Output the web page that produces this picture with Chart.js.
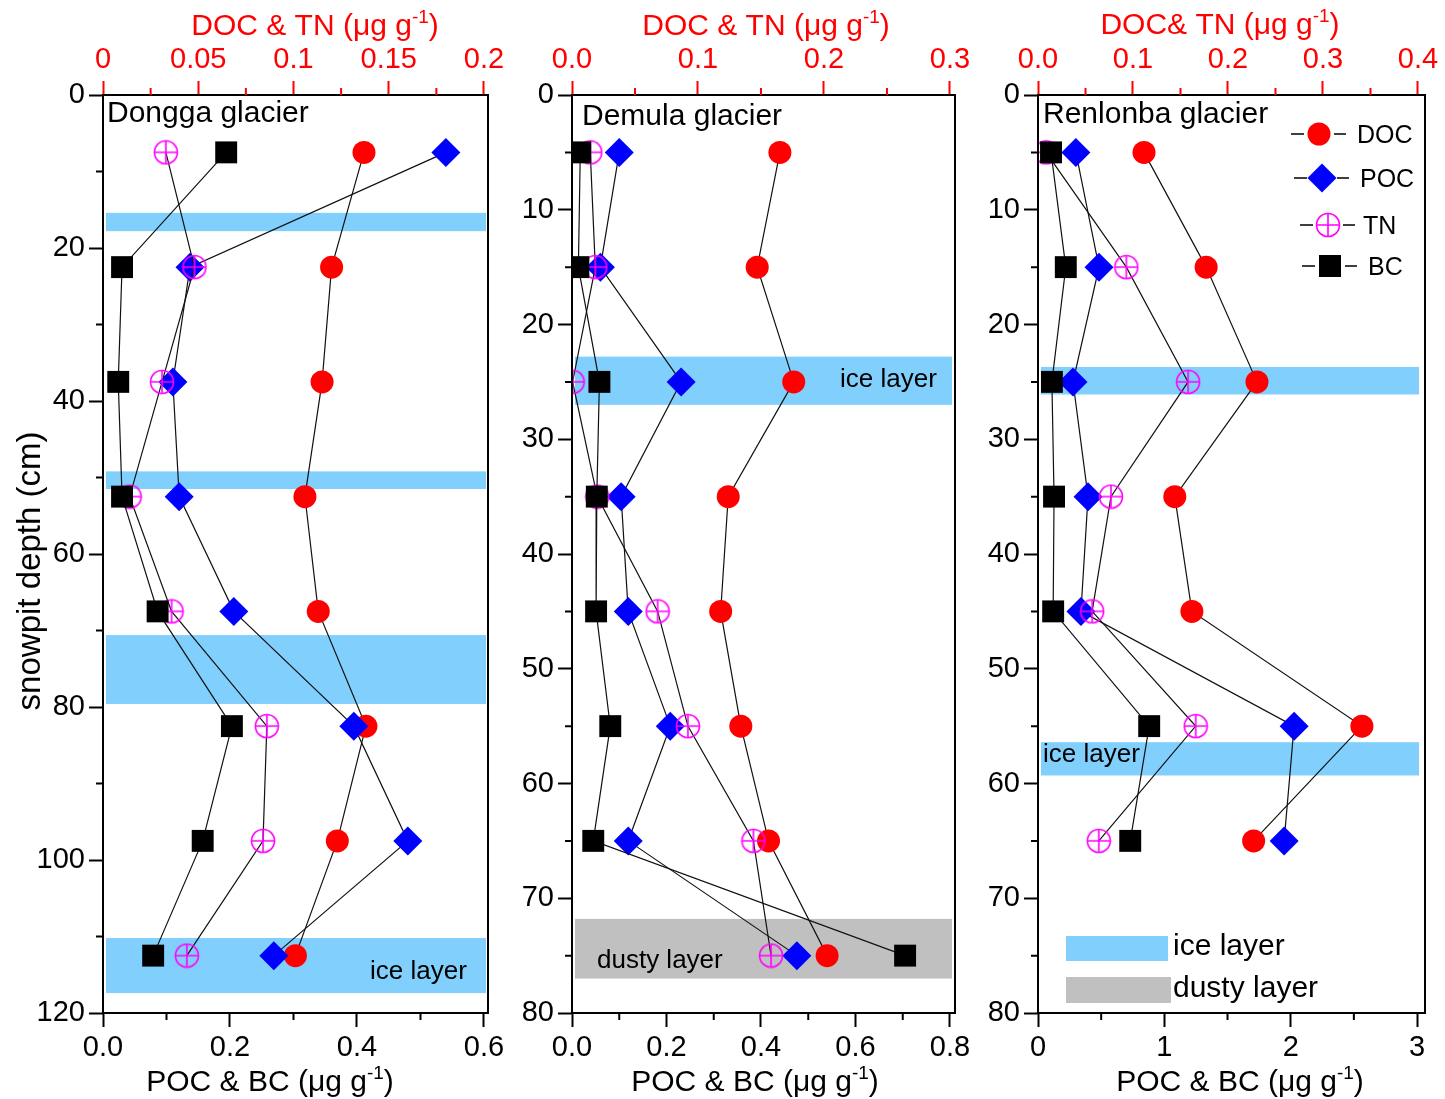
<!DOCTYPE html>
<html>
<head>
<meta charset="utf-8">
<script src="https://cdn.jsdelivr.net/npm/chart.js@4.4.0/dist/chart.umd.min.js"></script>
<style>
html, body { margin:0; padding:0; background:#fff; width:1445px; height:1099px; overflow:hidden; }
canvas { position:absolute; top:0; }
</style>
</head>
<body>
<canvas id="c1" width="510" height="1099" style="left:0px;width:510px;height:1099px"></canvas>
<canvas id="c2" width="480" height="1099" style="left:500px;width:480px;height:1099px"></canvas>
<canvas id="c3" width="475" height="1099" style="left:970px;width:475px;height:1099px"></canvas>
<script>
// ---------------- DATA ----------------
const seriesNames = ['DOC', 'POC', 'TN', 'BC'];

// Dongga glacier
const donggaDepth = [7.5, 22.5, 37.5, 52.5, 67.5, 82.5, 97.5, 112.5];
const donggaDOC = [0.137, 0.120, 0.115, 0.106, 0.113, 0.138, 0.123, 0.101];
const donggaTN  = [0.033, 0.048, 0.031, 0.014, 0.036, 0.086, 0.084, 0.044];
const donggaPOC = [0.540, 0.137, 0.110, 0.120, 0.206, 0.395, 0.480, 0.269];
const donggaBC  = [0.194, 0.030, 0.024, 0.030, 0.086, 0.203, 0.157, 0.079];
const donggaIce = [[15.4, 17.8], [49.2, 51.5], [70.6, 79.6], [110.2, 117.4]];
const donggaDusty = [];

// Demula glacier
const demulaDepth = [5, 15, 25, 35, 45, 55, 65, 75];
const demulaDOC = [0.165, 0.147, 0.176, 0.124, 0.118, 0.134, 0.156, 0.2025];
const demulaTN  = [0.0145, 0.0185, 0.0005, 0.020, 0.068, 0.092, 0.144, 0.158];
const demulaPOC = [0.100, 0.060, 0.231, 0.104, 0.119, 0.208, 0.119, 0.476];
const demulaBC  = [0.0175, 0.0135, 0.058, 0.0525, 0.051, 0.081, 0.045, 0.705];
const demulaIce = [[22.8, 27.0]];
const demulaDusty = [[71.8, 77.0]];

// Renlonba glacier
const renlonbaDepth = [5, 15, 25, 35, 45, 55, 65];
const renlonbaDOC = [0.1116, 0.177, 0.2305, 0.144, 0.162, 0.341, 0.227];
const renlonbaTN  = [0.0085, 0.093, 0.158, 0.0768, 0.057, 0.166, 0.064];
const renlonbaPOC = [0.30, 0.483, 0.277, 0.396, 0.34, 2.027, 1.948];
const renlonbaBC  = [0.103, 0.22, 0.11, 0.127, 0.12, 0.88, 0.73];
const renlonbaIce = [[23.7, 26.1], [56.4, 59.3]];
const renlonbaDusty = [];

// Tick values and labels
const donggaDepthTicks = [0, 20, 40, 60, 80, 100, 120];
const donggaDepthLabels = ['0', '20', '40', '60', '80', '100', '120'];
const donggaTopTicks = [0, 0.05, 0.1, 0.15, 0.2];
const donggaTopLabels = ['0', '0.05', '0.1', '0.15', '0.2'];
const donggaBottomTicks = [0, 0.2, 0.4, 0.6];
const donggaBottomLabels = ['0.0', '0.2', '0.4', '0.6'];

const demulaDepthTicks = [0, 10, 20, 30, 40, 50, 60, 70, 80];
const demulaDepthLabels = ['0', '10', '20', '30', '40', '50', '60', '70', '80'];
const demulaTopTicks = [0, 0.1, 0.2, 0.3];
const demulaTopLabels = ['0.0', '0.1', '0.2', '0.3'];
const demulaBottomTicks = [0, 0.2, 0.4, 0.6, 0.8];
const demulaBottomLabels = ['0.0', '0.2', '0.4', '0.6', '0.8'];

const renlonbaDepthTicks = [0, 10, 20, 30, 40, 50, 60, 70, 80];
const renlonbaDepthLabels = ['0', '10', '20', '30', '40', '50', '60', '70', '80'];
const renlonbaTopTicks = [0, 0.1, 0.2, 0.3, 0.4];
const renlonbaTopLabels = ['0.0', '0.1', '0.2', '0.3', '0.4'];
const renlonbaBottomTicks = [0, 1, 2, 3];
const renlonbaBottomLabels = ['0', '1', '2', '3'];

// ---------------- STYLE ----------------
const FONT = '"Liberation Sans", Arial, Helvetica, sans-serif';
const RED = '#ff0000', BLUE = '#0000ff', MAGENTA = '#ff00ff';
const ICE = 'rgb(128,207,252)';
const DUST = 'rgb(192,192,192)';
const H = 1099;

function makeTN(r) {
  const s = Math.ceil(2 * r + 3);
  const c = document.createElement('canvas');
  c.width = s; c.height = s;
  const g = c.getContext('2d');
  g.strokeStyle = MAGENTA; g.lineWidth = 1.6;
  const m = s / 2;
  g.beginPath(); g.arc(m, m, r, 0, Math.PI * 2); g.stroke();
  g.beginPath();
  g.moveTo(m - r, m); g.lineTo(m + r, m);
  g.moveTo(m, m - r); g.lineTo(m, m + r);
  g.stroke();
  return c;
}
const tnImg = makeTN(11.5);

function drawMarker(ctx, kind, x, y) {
  ctx.save();
  if (kind === 'DOC') {
    ctx.fillStyle = RED; ctx.beginPath(); ctx.arc(x, y, 11.5, 0, Math.PI * 2); ctx.fill();
  } else if (kind === 'POC') {
    ctx.fillStyle = BLUE; ctx.beginPath();
    ctx.moveTo(x - 14.5, y); ctx.lineTo(x, y - 14.5); ctx.lineTo(x + 14.5, y); ctx.lineTo(x, y + 14.5);
    ctx.closePath(); ctx.fill();
  } else if (kind === 'TN') {
    ctx.drawImage(tnImg, x - tnImg.width / 2, y - tnImg.height / 2);
  } else {
    ctx.fillStyle = '#000'; ctx.fillRect(x - 11, y - 11, 22, 22);
  }
  ctx.restore();
}

function drawUnitTitle(ctx, pre, cx, base, color, size) {
  const main = size + 'px ' + FONT, small = Math.round(size * 0.62) + 'px ' + FONT;
  ctx.save();
  ctx.fillStyle = color; ctx.textAlign = 'left'; ctx.textBaseline = 'alphabetic';
  ctx.font = main; const w1 = ctx.measureText(pre).width; const w3 = ctx.measureText(')').width;
  ctx.font = small; const w2 = ctx.measureText('-1').width;
  let x = cx - (w1 + w2 + w3) / 2;
  ctx.font = main; ctx.fillText(pre, x, base); x += w1;
  ctx.font = small; ctx.fillText('-1', x, base - size * 0.4); x += w2;
  ctx.font = main; ctx.fillText(')', x, base);
  ctx.restore();
}

function buildDatasets(depth, doc, poc, tn, bc) {
  const pts = vals => vals.map((v, i) => ({ x: v, y: depth[i] }));
  const common = { showLine: true, borderColor: '#111', borderWidth: 1.2, pointBorderWidth: 0,
                   clip: 0, tension: 0, yAxisID: 'y' };
  return [
    Object.assign({}, common, { label: seriesNames[0], data: pts(doc), xAxisID: 'x2', pointStyle: 'circle',
      pointRadius: 11.5, pointHoverRadius: 11.5, pointBackgroundColor: RED, pointBorderColor: RED, order: 3 }),
    Object.assign({}, common, { label: seriesNames[1], data: pts(poc), xAxisID: 'x', pointStyle: 'rectRot',
      pointRadius: 14.5, pointHoverRadius: 14.5, pointBackgroundColor: BLUE, pointBorderColor: BLUE, order: 2 }),
    Object.assign({}, common, { label: seriesNames[2], data: pts(tn), xAxisID: 'x2', pointStyle: tnImg,
      pointRadius: 12, pointHoverRadius: 12, pointBackgroundColor: 'rgba(0,0,0,0)', pointBorderColor: MAGENTA, order: 1 }),
    Object.assign({}, common, { label: seriesNames[3], data: pts(bc), xAxisID: 'x', pointStyle: 'rect',
      pointRadius: 15.5, pointHoverRadius: 15.5, pointBackgroundColor: '#000', pointBorderColor: '#000', order: 0 })
  ];
}

function axisCfg(pos, min, max, ticks, labels, color, fitFn, reverse) {
  return {
    type: 'linear', position: pos, min: min, max: max, reverse: !!reverse, bounds: 'data',
    afterBuildTicks: s => { s.ticks = ticks.map(v => ({ value: v })); },
    afterFit: fitFn,
    ticks: { font: { family: FONT, size: 29 }, color: color, padding: 4, autoSkip: false,
             maxRotation: 0, minRotation: 0, callback: (v, i) => labels[i] },
    grid: { drawOnChartArea: false, drawTicks: true, tickLength: 14, tickWidth: 2, tickColor: color },
    border: { display: false },
    title: { display: false }
  };
}

function minorVals(ticks) {
  const out = [];
  for (let i = 0; i < ticks.length - 1; i++) out.push((ticks[i] + ticks[i + 1]) / 2);
  return out;
}

function decorPlugin(p) {
  return {
    id: 'decor',
    beforeDatasetsDraw(chart) {
      const ctx = chart.ctx, a = chart.chartArea, ys = chart.scales.y, xs = chart.scales.x;
      const x1 = a.left + 3;
      const x2 = xs.getPixelForValue(p.bottomTicks[p.bottomTicks.length - 1]) + 2;
      ctx.save();
      const fillBands = (ranges, color) => {
        ctx.fillStyle = color;
        ranges.forEach(r => {
          const yA = ys.getPixelForValue(r[0]), yB = ys.getPixelForValue(r[1]);
          ctx.fillRect(x1, Math.min(yA, yB), x2 - x1, Math.abs(yB - yA));
        });
      };
      fillBands(p.ice, ICE);
      fillBands(p.dusty, DUST);
      ctx.fillStyle = '#000'; ctx.textAlign = 'left'; ctx.textBaseline = 'alphabetic';
      p.bandTexts.forEach(t => {
        ctx.font = t.size + 'px ' + FONT;
        ctx.fillText(t.t, t.x - p.ox, t.y);
      });
      ctx.restore();
    },
    afterDatasetsDraw(chart) {
      const ctx = chart.ctx, a = chart.chartArea;
      const ys = chart.scales.y, xs = chart.scales.x, x2s = chart.scales.x2;
      ctx.save();
      // frame
      ctx.strokeStyle = '#000'; ctx.lineWidth = 2;
      ctx.strokeRect(a.left, a.top, a.right - a.left, a.bottom - a.top);
      // minor ticks
      ctx.lineWidth = 2;
      ctx.strokeStyle = '#000';
      ctx.beginPath();
      minorVals(p.yTicks).forEach(v => { const y = ys.getPixelForValue(v); ctx.moveTo(a.left - 7, y); ctx.lineTo(a.left, y); });
      minorVals(p.bottomTicks).forEach(v => { const x = xs.getPixelForValue(v); ctx.moveTo(x, a.bottom); ctx.lineTo(x, a.bottom + 7); });
      ctx.stroke();
      ctx.strokeStyle = RED;
      ctx.beginPath();
      minorVals(p.topTicks).forEach(v => { const x = x2s.getPixelForValue(v); ctx.moveTo(x, a.top - 7); ctx.lineTo(x, a.top); });
      ctx.stroke();
      // panel title
      ctx.fillStyle = '#000'; ctx.textAlign = 'left'; ctx.textBaseline = 'alphabetic';
      ctx.font = '30px ' + FONT;
      ctx.fillText(p.name, p.nameX - p.ox, p.nameY);
      // axis titles
      drawUnitTitle(ctx, p.topTitle, p.topTitleX - p.ox, p.topTitleY, RED, 30);
      drawUnitTitle(ctx, 'POC & BC (\u03BCg g', p.botTitleX - p.ox, 1091, '#000', 30);
      if (p.yTitle) {
        ctx.save();
        ctx.translate(40 - p.ox, 571);
        ctx.rotate(-Math.PI / 2);
        ctx.textAlign = 'center'; ctx.fillStyle = '#000'; ctx.font = '33px ' + FONT;
        ctx.fillText(p.yTitle, 0, 0);
        ctx.restore();
      }
      // series legend
      if (p.legend) {
        ctx.font = '25px ' + FONT; ctx.fillStyle = '#000'; ctx.textAlign = 'left';
        p.legend.forEach(it => {
          const mx = it.mx - p.ox, my = it.my;
          ctx.strokeStyle = '#000'; ctx.lineWidth = 1.6;
          ctx.beginPath();
          ctx.moveTo(mx - 28, my); ctx.lineTo(mx - 15, my);
          ctx.moveTo(mx + 15, my); ctx.lineTo(mx + 27, my);
          ctx.stroke();
          drawMarker(ctx, it.name, mx, my);
          ctx.fillStyle = '#000';
          ctx.fillText(it.name, it.tx - p.ox, my + 9);
        });
      }
      if (p.bandLegend) {
        ctx.fillStyle = ICE; ctx.fillRect(1066 - p.ox, 936, 102, 25);
        ctx.fillStyle = DUST; ctx.fillRect(1066 - p.ox, 977, 105, 26);
        ctx.fillStyle = '#000'; ctx.font = '30px ' + FONT;
        ctx.fillText('ice layer', 1173 - p.ox, 955);
        ctx.fillText('dusty layer', 1173 - p.ox, 997);
      }
      ctx.restore();
    }
  };
}

function makeChart(id, p) {
  const ctx = document.getElementById(id).getContext('2d');
  return new Chart(ctx, {
    type: 'scatter',
    data: { datasets: buildDatasets(p.depth, p.doc, p.poc, p.tn, p.bc) },
    options: {
      responsive: false, animation: false, devicePixelRatio: 1, events: [],
      layout: { padding: { left: 0, top: 0, bottom: 0, right: p.W - p.area.right } },
      plugins: { legend: { display: false }, tooltip: { enabled: false } },
      scales: {
        y: axisCfg('left', 0, p.yMax, p.yTicks, p.yLabels, '#000', s => { s.width = p.area.left; }, true),
        x: axisCfg('bottom', 0, p.xMax, p.bottomTicks, p.bottomLabels, '#000', s => { s.height = H - p.area.bottom; }),
        x2: axisCfg('top', 0, p.x2Max, p.topTicks, p.topLabels, RED, s => { s.height = p.area.top; })
      }
    },
    plugins: [decorPlugin(p)]
  });
}

makeChart('c1', {
  ox: 0, W: 510, area: { left: 103, top: 95, right: 488, bottom: 1013 },
  depth: donggaDepth, doc: donggaDOC, tn: donggaTN, poc: donggaPOC, bc: donggaBC,
  ice: donggaIce, dusty: donggaDusty,
  yMax: 120, xMax: 0.6063, x2Max: 0.2021,
  yTicks: donggaDepthTicks, yLabels: donggaDepthLabels,
  topTicks: donggaTopTicks, topLabels: donggaTopLabels,
  bottomTicks: donggaBottomTicks, bottomLabels: donggaBottomLabels,
  name: 'Dongga glacier', nameX: 107, nameY: 122,
  topTitle: 'DOC & TN (\u03BCg g', topTitleX: 315, topTitleY: 35, botTitleX: 270,
  yTitle: 'snowpit depth (cm)',
  bandTexts: [{ t: 'ice layer', x: 370, y: 979, size: 26 }]
});

makeChart('c2', {
  ox: 500, W: 480, area: { left: 72, top: 95, right: 455, bottom: 1013 },
  depth: demulaDepth, doc: demulaDOC, tn: demulaTN, poc: demulaPOC, bc: demulaBC,
  ice: demulaIce, dusty: demulaDusty,
  yMax: 80, xMax: 0.8106, x2Max: 0.304,
  yTicks: demulaDepthTicks, yLabels: demulaDepthLabels,
  topTicks: demulaTopTicks, topLabels: demulaTopLabels,
  bottomTicks: demulaBottomTicks, bottomLabels: demulaBottomLabels,
  name: 'Demula glacier', nameX: 582, nameY: 125,
  topTitle: 'DOC & TN (\u03BCg g', topTitleX: 766, topTitleY: 35, botTitleX: 755,
  bandTexts: [{ t: 'ice layer', x: 840, y: 387, size: 26 }, { t: 'dusty layer', x: 597, y: 968, size: 26 }]
});

makeChart('c3', {
  ox: 970, W: 475, area: { left: 68, top: 95, right: 455, bottom: 1013 },
  depth: renlonbaDepth, doc: renlonbaDOC, tn: renlonbaTN, poc: renlonbaPOC, bc: renlonbaBC,
  ice: renlonbaIce, dusty: renlonbaDusty,
  yMax: 80, xMax: 3.063, x2Max: 0.4074,
  yTicks: renlonbaDepthTicks, yLabels: renlonbaDepthLabels,
  topTicks: renlonbaTopTicks, topLabels: renlonbaTopLabels,
  bottomTicks: renlonbaBottomTicks, bottomLabels: renlonbaBottomLabels,
  name: 'Renlonba glacier', nameX: 1043, nameY: 123,
  topTitle: 'DOC& TN (\u03BCg g', topTitleX: 1220, topTitleY: 34, botTitleX: 1240,
  bandTexts: [{ t: 'ice layer', x: 1043, y: 762, size: 26 }],
  legend: [
    { name: 'DOC', mx: 1319, my: 134, tx: 1357 },
    { name: 'POC', mx: 1322, my: 178, tx: 1360 },
    { name: 'TN',  mx: 1328, my: 225, tx: 1363 },
    { name: 'BC',  mx: 1330, my: 266, tx: 1368 }
  ],
  bandLegend: true
});
</script>
</body>
</html>
